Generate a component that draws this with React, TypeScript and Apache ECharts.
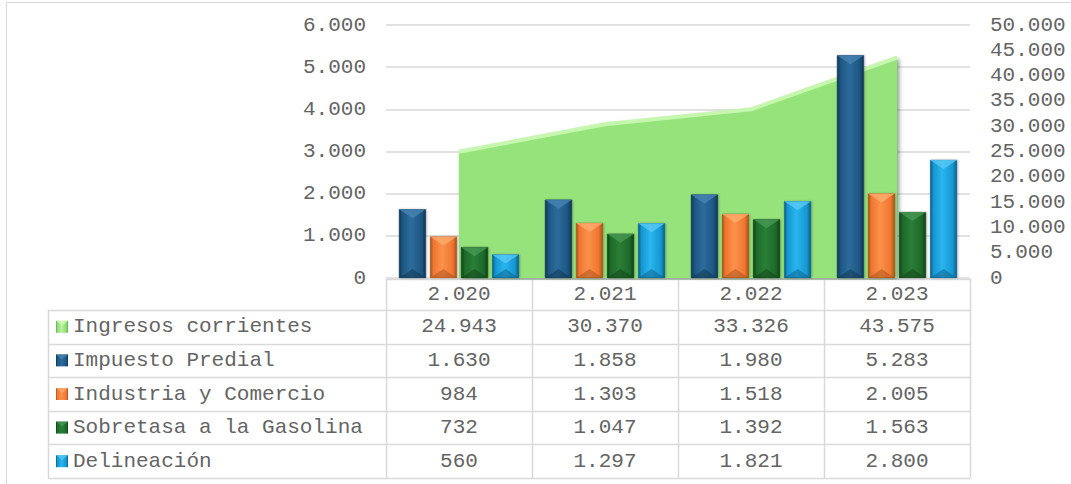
import React, { useEffect, useRef } from "react";
import * as echarts from "echarts";

const categories = ["2.020", "2.021", "2.022", "2.023"];
const ingresosCorrientes = [24943, 30370, 33326, 43575];
const impuestoPredial = [1630, 1858, 1980, 5283];
const industriaComercio = [984, 1303, 1518, 2005];
const sobretasaGasolina = [732, 1047, 1392, 1563];
const delineacion = [560, 1297, 1821, 2800];
const leftAxisTicks = [0, 1000, 2000, 3000, 4000, 5000, 6000];
const rightAxisTicks = [0, 5000, 10000, 15000, 20000, 25000, 30000, 35000, 40000, 45000, 50000];

const FONT = "Liberation Mono";
const TXT = "#646464";
const BORDER = "#d9d9d9";

const fmt = (v: number) => String(Math.round(v)).replace(/\B(?=(\d{3})+(?!\d))/g, ".");

const hGrad = (dark: string, mid: string, light: string) =>
  new echarts.graphic.LinearGradient(0, 0, 1, 0, [
    { offset: 0, color: dark },
    { offset: 0.12, color: mid },
    { offset: 0.45, color: light },
    { offset: 0.85, color: mid },
    { offset: 1, color: dark },
  ]);

const seriesDefs = [
  { name: "Ingresos corrientes", data: ingresosCorrientes, colors: ["#5fae4a", "#8fdc75", "#b6f29c", "#d4fbc0"] },
  { name: "Impuesto Predial", data: impuestoPredial, colors: ["#0f3450", "#1d5683", "#2d6c9c", "#4a86b4"] },
  { name: "Industria y Comercio", data: industriaComercio, colors: ["#a8501a", "#ef7630", "#fb914a", "#ffad72"] },
  { name: "Sobretasa a la Gasolina", data: sobretasaGasolina, colors: ["#0f3f17", "#1d6a29", "#2a7e36", "#4a9a55"] },
  { name: "Delineación", data: delineacion, colors: ["#0a5d85", "#1597d2", "#2ab5ee", "#5ccbf5"] },
];

const BAR_W = 27;
const BAR_GAP = 0.15;

export default function App() {
  const ref = useRef<HTMLDivElement>(null);
  useEffect(() => {
    if (!ref.current) return;
    const chart = echarts.init(ref.current, undefined, { renderer: "svg" });

    const gridLeft = 386;
    const gridRight = 970;
    const colW = (gridRight - gridLeft) / categories.length;
    const tableLeft = 48;
    const headerTop = 279;
    const rowTop = 310;
    const tableBottom = 478;
    const rowH = (tableBottom - rowTop) / seriesDefs.length;

    const graphics: any[] = [];
    graphics.push({
      type: "rect",
      shape: { x: 6.5, y: 2.5, width: 1100, height: 600 },
      style: { fill: "none", stroke: BORDER, lineWidth: 1 },
      silent: true,
    });
    graphics.push({
      type: "line",
      shape: { x1: gridLeft, y1: headerTop + 0.5, x2: gridRight, y2: headerTop + 0.5 },
      style: { stroke: BORDER, lineWidth: 1.5 },
    });
    for (let i = 0; i <= seriesDefs.length; i++) {
      const y = Math.round(rowTop + i * rowH) + 0.5;
      graphics.push({
        type: "line",
        shape: { x1: tableLeft, y1: y, x2: gridRight, y2: y },
        style: { stroke: BORDER, lineWidth: 1.5 },
      });
    }
    graphics.push({
      type: "line",
      shape: { x1: tableLeft + 0.5, y1: rowTop, x2: tableLeft + 0.5, y2: tableBottom },
      style: { stroke: BORDER, lineWidth: 1.5 },
    });
    for (let c = 0; c <= categories.length; c++) {
      const x = Math.round(gridLeft + c * colW) + 0.5;
      graphics.push({
        type: "line",
        shape: { x1: x, y1: headerTop, x2: x, y2: tableBottom },
        style: { stroke: BORDER, lineWidth: 1.5 },
      });
    }
    seriesDefs.forEach((s, r) => {
      const cy = rowTop + r * rowH + rowH / 2;
      graphics.push({
        type: "rect",
        shape: { x: 56, y: cy - 6, width: 12, height: 12 },
        style: { fill: hGrad(s.colors[0], s.colors[1], s.colors[2]) },
      });
      graphics.push({
        type: "polygon",
        shape: { points: [[56, cy - 6], [68, cy - 6], [62, cy - 1]] },
        style: { fill: s.colors[3], opacity: 0.7 },
      });
      graphics.push({
        type: "text",
        x: 73,
        y: cy,
        style: {
          text: s.name,
          font: `21px "${FONT}"`,
          fill: TXT,
          verticalAlign: "middle",
          align: "left",
        },
      });
      s.data.forEach((v, c) => {
        graphics.push({
          type: "text",
          x: gridLeft + c * colW + colW / 2,
          y: cy,
          style: {
            text: fmt(v),
            font: `21px "${FONT}"`,
            fill: TXT,
            verticalAlign: "middle",
            align: "center",
          },
        });
      });
    });

    const nBars = seriesDefs.length - 1;
    const groupW = nBars * BAR_W + (nBars - 1) * BAR_W * BAR_GAP;

    const barSeries: any[] = [];
    const bevelSeries: any[] = [];
    seriesDefs.slice(1).forEach((s, k) => {
      barSeries.push({
        name: s.name,
        type: "bar",
        yAxisIndex: 0,
        data: s.data,
        barWidth: BAR_W,
        barGap: `${BAR_GAP * 100}%`,
        z: 3,
        itemStyle: {
          color: hGrad(s.colors[0], s.colors[1], s.colors[2]),
          borderColor: s.colors[0],
          borderWidth: 0.6,
          shadowColor: "rgba(0,0,0,0.25)",
          shadowBlur: 2,
          shadowOffsetX: 1,
        },
      });
      const offset = -groupW / 2 + BAR_W / 2 + k * BAR_W * (1 + BAR_GAP);
      bevelSeries.push({
        name: s.name + " bevel",
        type: "custom",
        yAxisIndex: 0,
        z: 4,
        silent: true,
        data: s.data.map((v, i) => [i, v]),
        renderItem: (params: any, api: any) => {
          const top = api.coord([api.value(0), api.value(1)]);
          const base = api.coord([api.value(0), 0]);
          const cx = top[0] + offset;
          const x0 = cx - BAR_W / 2;
          const x1 = cx + BAR_W / 2;
          const d = Math.min(9, (base[1] - top[1]) / 2);
          return {
            type: "group",
            children: [
              {
                type: "polygon",
                shape: { points: [[x0, top[1]], [x1, top[1]], [cx, top[1] + d]] },
                style: { fill: s.colors[3], opacity: 0.75 },
              },
              {
                type: "polygon",
                shape: { points: [[x0, base[1]], [x1, base[1]], [cx, base[1] - d]] },
                style: { fill: s.colors[0], opacity: 0.5 },
              },
            ],
          };
        },
      });
    });

    const option: any = {
      animation: false,
      grid: { left: gridLeft, right: 1071 - gridRight, top: 25, bottom: 484 - 278, containLabel: false },
      xAxis: {
        type: "category",
        data: categories,
        boundaryGap: true,
        axisLine: { show: false },
        axisTick: { show: false },
        axisLabel: {
          margin: 6,
          fontFamily: FONT,
          fontSize: 21,
          color: TXT,
          lineHeight: 21,
        },
      },
      yAxis: [
        {
          type: "value",
          min: leftAxisTicks[0],
          max: leftAxisTicks[leftAxisTicks.length - 1],
          interval: leftAxisTicks[1] - leftAxisTicks[0],
          axisLine: { show: false },
          axisTick: { show: false },
          splitLine: { show: true, lineStyle: { color: BORDER, width: 1.5 } },
          axisLabel: {
            margin: 20,
            fontFamily: FONT,
            fontSize: 21,
            color: TXT,
            formatter: (v: number) => fmt(v),
          },
        },
        {
          type: "value",
          position: "right",
          min: rightAxisTicks[0],
          max: rightAxisTicks[rightAxisTicks.length - 1],
          interval: rightAxisTicks[1] - rightAxisTicks[0],
          axisLine: { show: false },
          axisTick: { show: false },
          splitLine: { show: false },
          axisLabel: {
            margin: 20,
            fontFamily: FONT,
            fontSize: 21,
            color: TXT,
            formatter: (v: number) => fmt(v),
          },
        },
      ],
      series: [
        {
          name: seriesDefs[0].name,
          type: "line",
          yAxisIndex: 1,
          data: seriesDefs[0].data,
          symbol: "none",
          z: 1,
          lineStyle: { color: "#c6f7ae", width: 4 },
          areaStyle: {
            color: "#96e37c",
            opacity: 1,
            shadowColor: "rgba(0,60,0,0.5)",
            shadowBlur: 4,
            shadowOffsetX: 2,
            shadowOffsetY: 1,
          },
        },
        ...barSeries,
        ...bevelSeries,
      ],
      graphic: graphics,
    };
    chart.setOption(option);
    return () => chart.dispose();
  }, []);
  return (
    <div
      ref={ref}
      style={{ position: "fixed", left: 0, top: 0, width: 1071, height: 484, background: "#fff" }}
    />
  );
}
